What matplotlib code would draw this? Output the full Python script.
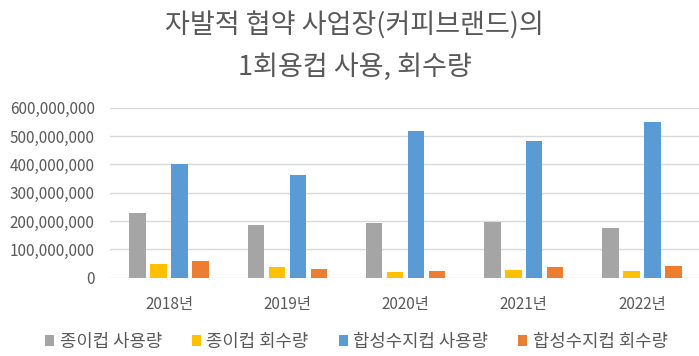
import numpy as np
import matplotlib
matplotlib.use('Agg')
import matplotlib.pyplot as plt
from matplotlib.patches import Patch
from matplotlib.ticker import FuncFormatter

plt.rcParams['font.family'] = ['Noto Sans CJK KR', 'DejaVu Sans']

years = ['2018년', '2019년', '2020년', '2021년', '2022년']
series_names = ['종이컵 사용량', '종이컵 회수량', '합성수지컵 사용량', '합성수지컵 회수량']
paper_use = [227e6, 187e6, 192e6, 197e6, 175e6]
paper_collect = [47e6, 39e6, 21e6, 27e6, 24e6]
plastic_use = [401e6, 362e6, 519e6, 484e6, 551e6]
plastic_collect = [60e6, 31e6, 24e6, 37e6, 42e6]
colors = ['#a5a5a5', '#ffc000', '#5b9bd5', '#ed7d31']

text_color = '#595959'


def fmt_thousands(v, pos):
    return f'{int(v):,}'


fig = plt.figure(figsize=(6.99, 3.56), dpi=100)
ax = fig.add_axes([0.1574, 0.22, 0.8455, 0.4775])

x = np.arange(len(years))
step = 0.1775
width = 0.14
all_series = [paper_use, paper_collect, plastic_use, plastic_collect]
for i, (vals, col) in enumerate(zip(all_series, colors)):
    ax.bar(x + (i - 1.5) * step, vals, width=width, color=col, zorder=3)

ax.set_xlim(-0.5, 4.5)
ax.set_ylim(0, 600e6)
ax.set_yticks(np.arange(0, 600e6 + 1, 100e6))
ax.yaxis.set_major_formatter(FuncFormatter(fmt_thousands))
ax.set_xticks(x)
ax.set_xticklabels(years)
ax.grid(axis='y', color='#d9d9d9', linewidth=1, zorder=0)
for s in ax.spines.values():
    s.set_visible(False)
ax.tick_params(axis='both', length=0, colors=text_color, labelsize=11)
ax.tick_params(axis='y', pad=11)
ax.tick_params(axis='x', pad=13)

fig.text(0.507, 0.927, '자발적 협약 사업장(커피브랜드)의', ha='center', va='center',
         fontsize=19.5, color=text_color)
fig.text(0.507, 0.812, '1회용컵 사용, 회수량', ha='center', va='center',
         fontsize=19.5, color=text_color)

handles = [Patch(facecolor=c, edgecolor='none') for c in colors]
fig.legend(handles, series_names, loc='center', bbox_to_anchor=(0.51, 0.04), ncol=4,
           frameon=False, fontsize=12.8, labelcolor=text_color, handlelength=0.5,
           handleheight=0.5, handletextpad=0.3, columnspacing=1.7)

plt.savefig('out.png', dpi=100)
